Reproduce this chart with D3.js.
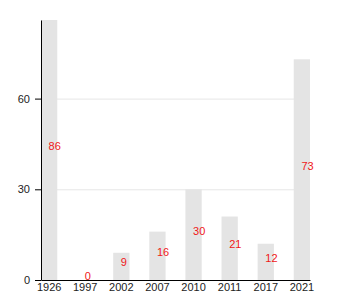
<!DOCTYPE html>
<html>
<head>
<meta charset="UTF-8">
<script src="https://d3js.org/d3.v7.min.js"></script>
<style>
  body { margin: 0; background: #fff; }
  svg { font-family: "Liberation Sans", Arial, sans-serif; }
  .tick text { font-size: 11px; fill: #222; }
  .label { font-size: 11px; fill: #f01818; }
</style>
</head>
<body>
<svg id="chart" width="350" height="300"></svg>
<script>
  var years = ['1926', '1997', '2002', '2007', '2010', '2011', '2017', '2021'];
  var counts = [86, 0, 9, 16, 30, 21, 12, 73];
  var yTicks = [0, 30, 60];

  var margin = {top: 20, right: 40, bottom: 20, left: 41},
      width = 350 - margin.left - margin.right,
      height = 300 - margin.top - margin.bottom;

  var svg = d3.select('#chart')
    .append('g')
      .attr('transform', 'translate(' + margin.left + ',' + margin.top + ')');

  var x = d3.scaleBand()
    .domain(years)
    .range([0, width])
    .paddingInner(0.55)
    .paddingOuter(0);

  var y = d3.scaleLinear()
    .domain([0, d3.max(counts)])
    .range([height, 0]);

  // gridlines behind the bars
  svg.selectAll('.grid')
    .data(yTicks.filter(function(d) { return d > 0; }))
    .enter().append('line')
      .attr('class', 'grid')
      .attr('x1', 0)
      .attr('x2', width)
      .attr('y1', function(d) { return y(d) + 0.5; })
      .attr('y2', function(d) { return y(d) + 0.5; })
      .attr('stroke', '#e6e6e6');

  svg.selectAll('.bar')
    .data(years)
    .enter().append('rect')
      .attr('class', 'bar')
      .attr('x', function(d) { return x(d); })
      .attr('y', function(d, i) { return y(counts[i]); })
      .attr('width', x.bandwidth())
      .attr('height', function(d, i) { return height - y(counts[i]); })
      .attr('fill', '#e4e4e4');

  // value labels, half way up each bar
  svg.selectAll('.label')
    .data(years)
    .enter().append('text')
      .attr('class', 'label')
      .attr('x', function(d) { return x(d) + x.bandwidth() / 2 - 0.5; })
      .attr('y', function(d, i) { return (y(counts[i]) + height) / 2; })
      .text(function(d, i) { return counts[i]; });

  // x axis
  svg.append('g')
    .attr('transform', 'translate(0,' + height + ')')
    .call(d3.axisBottom(x).tickSize(0).tickPadding(3))
    .call(function(g) { g.select('.domain').attr('stroke', '#000'); })
    .selectAll('text').attr('font-size', null).attr('font-family', null);

  // y axis
  svg.append('g')
    .call(d3.axisLeft(y).tickValues(yTicks).tickSizeOuter(0).tickPadding(5))
    .call(function(g) { g.select('.domain').attr('stroke', '#000'); })
    .selectAll('text').attr('font-size', null).attr('font-family', null);
</script>
</body>
</html>
